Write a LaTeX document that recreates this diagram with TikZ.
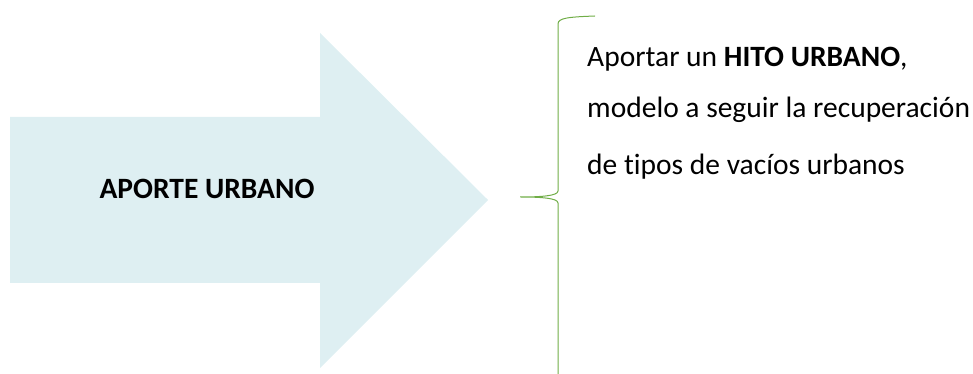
\documentclass[tikz,border=0pt]{standalone}
\usepackage{fontspec}
\setmainfont{Carlito}[Ligatures=NoCommon]
\usepackage{tikz}
\usetikzlibrary{positioning}
\definecolor{arrowfill}{RGB}{222,239,242}
\definecolor{bracegreen}{RGB}{112,173,71}

\begin{document}
\begin{tikzpicture}[x=1pt, y=1pt,
    bigarrow/.style={fill=arrowfill, draw=none},
    bracelines/.style={draw=bracegreen, line width=1pt},
    itemtext/.style={anchor=base west, inner sep=0pt, font=\fontsize{29.5}{36}\selectfont}]
    \useasboundingbox (0,0) rectangle (973,374);

    % Arrow shape
    \path[bigarrow] (10,257) -- (320,257) -- (320,341) -- (488,174)
        -- (320,6) -- (320,91) -- (10,91) -- cycle;
    \node[anchor=base, inner sep=0pt, font=\fontsize{29.5}{36}\selectfont\bfseries] (aporte) at (207,175) {APORTE URBANO};

    % Brace
    \coordinate (bracetop) at (595,358);
    \coordinate (bracetip) at (520,177);
    \coordinate (bracebot) at (558,0);
    \draw[bracelines] (bracetop) .. controls (568,357) and (558,356) .. (558,350)
        -- (558,183) .. controls (558,178) and (540,177) .. (bracetip)
        .. controls (540,177) and (558,176) .. (558,171) -- (bracebot);

    % Text lines
    \node[itemtext] (line1) at (587,307) {Aportar un \textbf{HITO URBANO},};
    \node[itemtext] (line2) at (587,256) {modelo a seguir la recuperación};
    \node[itemtext] (line3) at (587,199) {de tipos de vacíos urbanos};
\end{tikzpicture}
\end{document}
